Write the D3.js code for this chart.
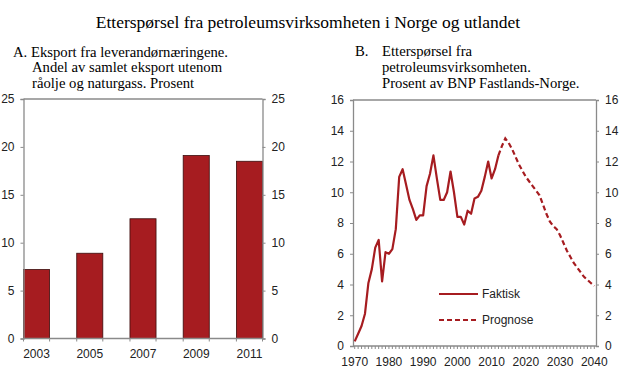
<!DOCTYPE html>
<html><head><meta charset="utf-8">
<script src="https://cdn.jsdelivr.net/npm/d3@7"></script>
<style>body{margin:0;background:#fff}svg{display:block}</style>
</head><body>
<script>
// ---- Data ----
const barYears = ["2003","2005","2007","2009","2011"];
const barValues = [7.2, 8.9, 12.5, 19.1, 18.5];
const barTicks = [0,5,10,15,20,25];

const faktiskYears = d3.range(1970, 2013);
const faktiskValues = [0.3,0.8,1.3,2.1,4.1,5.0,6.4,6.9,4.2,6.1,6.0,6.3,7.6,11.0,11.5,10.5,9.5,8.9,8.2,8.5,8.5,10.4,11.2,12.4,10.9,9.5,9.5,10.0,11.35,10.0,8.4,8.4,7.9,8.8,8.6,9.6,9.7,10.1,11.0,12.0,10.9,11.5,12.4];
const prognoseYears = d3.range(2012, 2041);
const prognoseValues = [12.4,13.0,13.5,13.2,12.8,12.3,11.8,11.4,11.0,10.7,10.4,10.1,9.8,9.2,8.6,8.1,7.8,7.6,7.2,6.7,6.2,5.8,5.4,5.1,4.8,4.5,4.3,4.1,3.9];
const lineTicksY = [0,2,4,6,8,10,12,14,16];
const lineTickLabelsX = [1970,1980,1990,2000,2010,2020,2030,2040];

const title = "Etterspørsel fra petroleumsvirksomheten i Norge og utlandet";
const subA = ["A. Eksport fra leverandørnæringene.", "Andel av samlet eksport utenom", "råolje og naturgass. Prosent"];
const subB = ["B.", "Etterspørsel fra", "petroleumsvirksomheten.", "Prosent av BNP Fastlands-Norge."];
const legendLabels = ["Faktisk", "Prognose"];

const RED = "#A61C20";
const AXIS = "#8a8a8a";
const SERIF = "'Liberation Serif','Times New Roman',serif";
const SANS = "'Liberation Sans',Arial,sans-serif";

const svg = d3.select("body").append("svg").attr("width",620).attr("height",383);

svg.append("text").attr("x",308).attr("y",28).attr("text-anchor","middle")
  .style("font-family",SERIF).style("font-size","17.5px").attr("fill","#000").text(title);

// Subtitles
const sa = svg.append("g").style("font-family",SERIF).style("font-size","14.7px").attr("fill","#000");
sa.append("text").attr("x",13).attr("y",57).text(subA[0]);
sa.append("text").attr("x",32).attr("y",72).text(subA[1]);
sa.append("text").attr("x",32).attr("y",88).text(subA[2]);
sa.append("text").attr("x",355).attr("y",56).text(subB[0]);
sa.append("text").attr("x",382).attr("y",56).text(subB[1]);
sa.append("text").attr("x",382).attr("y",72).text(subB[2]);
sa.append("text").attr("x",382).attr("y",88).text(subB[3]);

function styleAxis(g){
  g.select(".domain").attr("stroke",AXIS).attr("stroke-width",1.3);
  g.selectAll(".tick line").attr("stroke",AXIS).attr("stroke-width",1);
  g.selectAll(".tick text").attr("fill","#222").style("font-family",SANS).style("font-size","12px");
}

// ---- Panel A ----
const aL = 23.5, aR = 262.5, aT = 99, aB = 338.5;
const xA = d3.scaleBand().domain(barYears).range([aL,aR]).paddingInner(0.51).paddingOuter(0);
const yA = d3.scaleLinear().domain([0,25]).range([aB,aT]);

svg.append("line").attr("x1",aL).attr("x2",aR).attr("y1",aT).attr("y2",aT).attr("stroke",AXIS).attr("stroke-width",1.3);

svg.append("g").selectAll("rect").data(barValues).join("rect")
  .attr("x",(d,i)=>xA(barYears[i])).attr("width",xA.bandwidth())
  .attr("y",d=>yA(d)).attr("height",d=>aB-yA(d))
  .attr("fill",RED).attr("stroke","#3b0d0d").attr("stroke-width",0.8);

const gAl = svg.append("g").attr("transform",`translate(${aL},0)`)
  .call(d3.axisLeft(yA).tickValues(barTicks).tickSize(3).tickPadding(6));
styleAxis(gAl);
const gAr = svg.append("g").attr("transform",`translate(${aR},0)`)
  .call(d3.axisRight(yA).tickValues(barTicks).tickSize(3).tickPadding(6));
styleAxis(gAr);
const edges = [];
barYears.forEach(y=>{edges.push(xA(y)); edges.push(xA(y)+xA.bandwidth());});
const gAb = svg.append("g").attr("transform",`translate(0,${aB})`);
gAb.append("line").attr("x1",aL).attr("x2",aR).attr("stroke",AXIS).attr("stroke-width",1.3);
gAb.selectAll("line.t").data(edges).join("line").attr("class","t")
  .attr("x1",d=>d).attr("x2",d=>d).attr("y1",0).attr("y2",3).attr("stroke",AXIS);
gAb.selectAll("text").data(barYears).join("text")
  .attr("x",d=>xA(d)+xA.bandwidth()/2).attr("y",19).attr("text-anchor","middle")
  .style("font-family",SANS).style("font-size","12px").attr("fill","#222").text(d=>d);

// ---- Panel B ----
const bL = 353, bR = 596, bT = 100, bB = 346;
const xB = d3.scalePoint().domain(d3.range(1970,2041)).range([bL,bR]).padding(0.5);
const yB = d3.scaleLinear().domain([0,16]).range([bB,bT]);

svg.append("line").attr("x1",bL).attr("x2",bR).attr("y1",bT).attr("y2",bT).attr("stroke",AXIS).attr("stroke-width",1.3);

const gBl = svg.append("g").attr("transform",`translate(${bL},0)`)
  .call(d3.axisLeft(yB).tickValues(lineTicksY).tickSize(3).tickPadding(6));
styleAxis(gBl);
const gBr = svg.append("g").attr("transform",`translate(${bR},0)`)
  .call(d3.axisRight(yB).tickValues(lineTicksY).tickSize(3).tickPadding(6));
styleAxis(gBr);
const gBb = svg.append("g").attr("transform",`translate(0,${bB})`);
gBb.append("line").attr("x1",bL).attr("x2",bR).attr("stroke",AXIS).attr("stroke-width",1.3);
gBb.selectAll("line.t").data(d3.range(1970,2041)).join("line").attr("class","t")
  .attr("x1",d=>xB(d)).attr("x2",d=>xB(d)).attr("y1",0).attr("y2",3).attr("stroke",AXIS);
gBb.selectAll("text").data(lineTickLabelsX).join("text")
  .attr("x",d=>xB(d)).attr("y",20).attr("text-anchor","middle")
  .style("font-family",SANS).style("font-size","12px").attr("fill","#222").text(d=>d);

const line = d3.line().x(d=>xB(d[0])).y(d=>yB(d[1]));
svg.append("path").datum(faktiskYears.map((y,i)=>[y,faktiskValues[i]]))
  .attr("d",line).attr("fill","none").attr("stroke",RED).attr("stroke-width",2.2).attr("stroke-linejoin","round");
svg.append("path").datum(prognoseYears.map((y,i)=>[y,prognoseValues[i]]))
  .attr("d",line).attr("fill","none").attr("stroke",RED).attr("stroke-width",2.2).attr("stroke-dasharray","5,3");

// Legend
const lg = svg.append("g");
lg.append("line").attr("x1",439).attr("x2",478).attr("y1",294).attr("y2",294).attr("stroke",RED).attr("stroke-width",2.2);
lg.append("line").attr("x1",439).attr("x2",478).attr("y1",320).attr("y2",320).attr("stroke",RED).attr("stroke-width",2.2).attr("stroke-dasharray","5,3");
lg.selectAll("text").data(legendLabels).join("text")
  .attr("x",482).attr("y",(d,i)=>298+i*26)
  .style("font-family",SANS).style("font-size","12px").attr("fill","#222").text(d=>d);
</script>
</body></html>
